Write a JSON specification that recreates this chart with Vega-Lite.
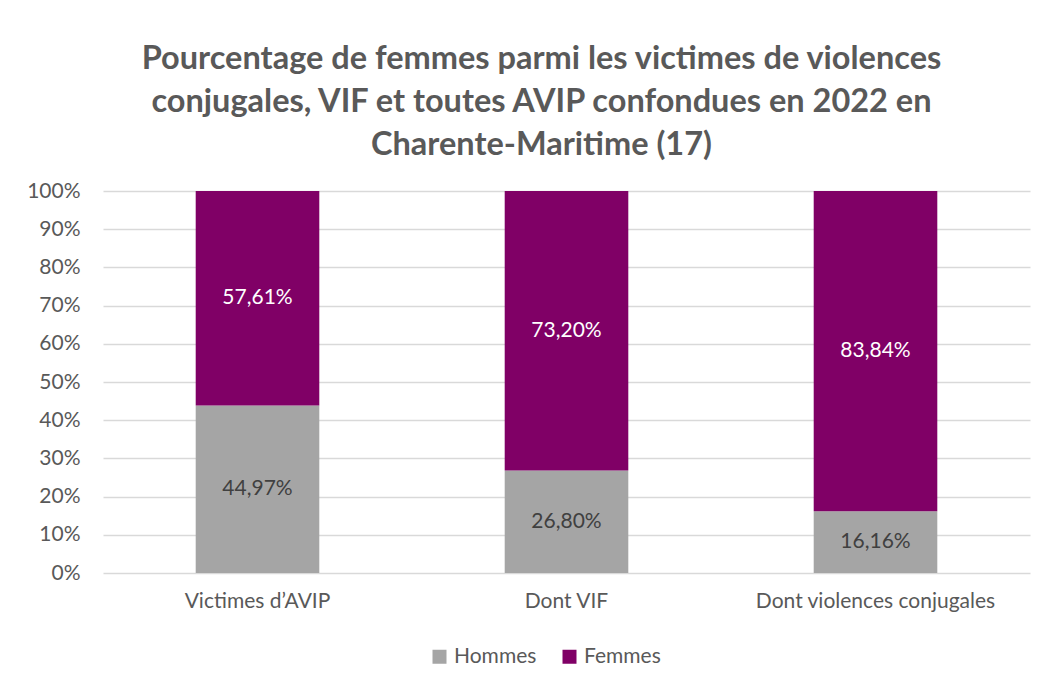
{
  "$schema": "https://vega.github.io/schema/vega-lite/v6.json",
  "width": 927,
  "height": 382,
  "autosize": {"type": "none"},
  "padding": {"left": 103, "top": 191, "right": 25, "bottom": 117},
  "background": "white",
  "config": {
    "font": "Lato",
    "locale": {"number": {"decimal": ",", "thousands": " ", "grouping": [3], "currency": ["", " €"]}},
    "view": {"stroke": null},
    "axisY": {"values": [0, 0.1, 0.2, 0.3, 0.4, 0.5, 0.6, 0.7, 0.8, 0.9, 1], "labelOverlap": false}
  },
  "title": {
    "text": ["Pourcentage de femmes parmi les victimes de violences", "conjugales, VIF et toutes AVIP confondues en 2022 en", "Charente-Maritime (17)"],
    "font": "Lato",
    "fontSize": 32.5,
    "fontWeight": "bold",
    "color": "#595959",
    "lineHeight": 43,
    "anchor": "middle",
    "dx": -25,
    "offset": 19
  },
  "data": {
    "values": [
      {"categorie": "Victimes d’AVIP", "sexe": "Hommes", "valeur": 0.4497},
      {"categorie": "Victimes d’AVIP", "sexe": "Femmes", "valeur": 0.5761},
      {"categorie": "Dont VIF", "sexe": "Hommes", "valeur": 0.268},
      {"categorie": "Dont VIF", "sexe": "Femmes", "valeur": 0.732},
      {"categorie": "Dont violences conjugales", "sexe": "Hommes", "valeur": 0.1616},
      {"categorie": "Dont violences conjugales", "sexe": "Femmes", "valeur": 0.8384}
    ]
  },
  "transform": [
    {"stack": "valeur", "groupby": ["categorie"], "sort": [{"field": "sexe", "order": "descending"}], "offset": "normalize", "as": ["y0", "y1"]}
  ],
  "encoding": {
    "x": {
      "field": "categorie",
      "type": "nominal",
      "sort": ["Victimes d’AVIP", "Dont VIF", "Dont violences conjugales"],
      "scale": {"paddingInner": 0.6, "paddingOuter": 0.3},
      "axis": {"title": null, "labelAngle": 0, "labelFontSize": 21, "labelColor": "#595959", "labelPadding": 17, "labelLimit": 0, "ticks": false, "domain": false, "grid": false}
    }
  },
  "layer": [
    {
      "mark": {"type": "bar"},
      "encoding": {
        "y": {
          "field": "y0",
          "type": "quantitative",
          "scale": {"domain": [0, 1]},
          "axis": {"title": null, "format": ".0%", "values": [0, 0.1, 0.2, 0.3, 0.4, 0.5, 0.6, 0.7, 0.8, 0.9, 1], "labelOverlap": false, "labelFontSize": 21, "labelColor": "#595959", "labelPadding": 23, "ticks": false, "domain": false, "gridColor": "#D9D9D9", "gridWidth": 1.3}
        },
        "y2": {"field": "y1"},
        "color": {
          "field": "sexe",
          "type": "nominal",
          "scale": {"domain": ["Hommes", "Femmes"], "range": ["#A5A5A5", "#800066"]},
          "legend": {"title": null, "orient": "none", "legendX": 326, "legendY": 455, "direction": "horizontal", "labelFontSize": 21, "labelColor": "#595959", "symbolType": "square", "symbolSize": 196, "symbolStrokeWidth": 0, "symbolOpacity": 1, "columnPadding": 22, "labelOffset": 4}
        }
      }
    },
    {
      "transform": [
        {"fold": ["y0", "y1"], "as": ["bord", "pos"]},
        {"aggregate": [{"op": "mean", "field": "pos", "as": "milieu"}], "groupby": ["categorie", "sexe", "valeur"]}
      ],
      "mark": {"type": "text", "fontSize": 21, "baseline": "middle"},
      "encoding": {
        "y": {
          "field": "milieu",
          "type": "quantitative",
          "axis": {"title": null, "format": ".0%", "values": [0, 0.1, 0.2, 0.3, 0.4, 0.5, 0.6, 0.7, 0.8, 0.9, 1], "labelOverlap": false, "labelFontSize": 21, "labelColor": "#595959", "labelPadding": 23, "ticks": false, "domain": false, "gridColor": "#D9D9D9", "gridWidth": 1.3}
        },
        "text": {"field": "valeur", "type": "quantitative", "format": ".2%"},
        "color": {
          "field": "sexe",
          "type": "nominal",
          "scale": {"domain": ["Hommes", "Femmes"], "range": ["#404040", "#FFFFFF"]},
          "legend": null
        }
      }
    }
  ],
  "resolve": {"scale": {"color": "independent"}}
}
